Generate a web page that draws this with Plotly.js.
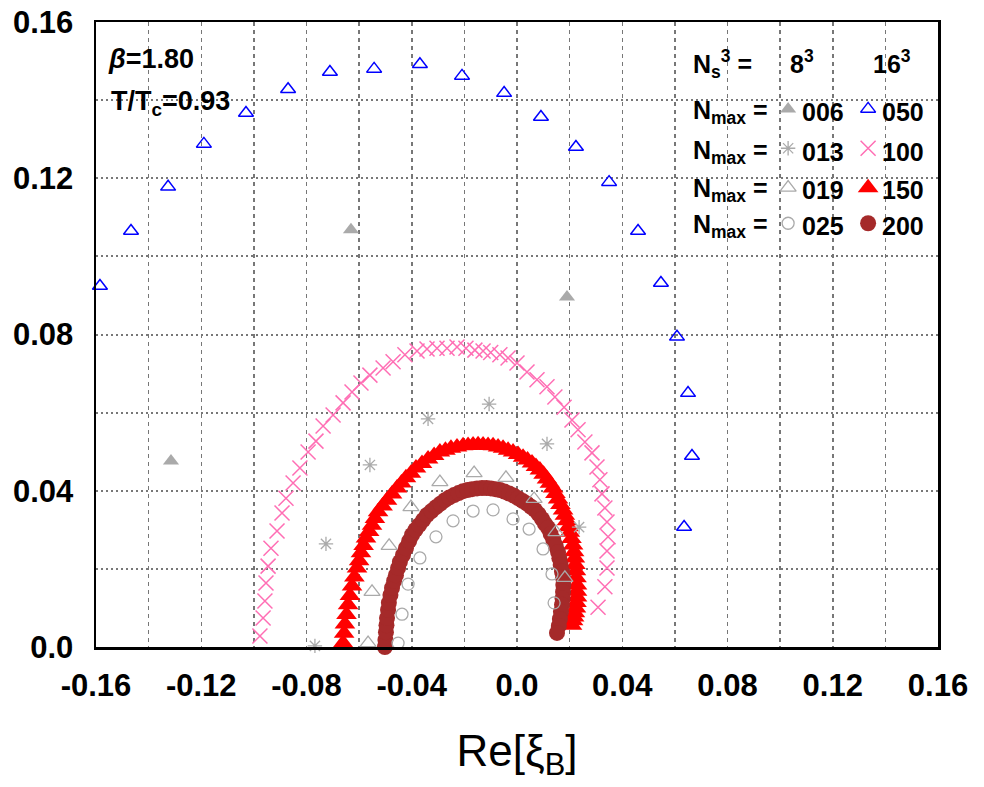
<!DOCTYPE html>
<html>
<head>
<meta charset="utf-8">
<script src="https://cdn.plot.ly/plotly-3.0.1.min.js"></script>
<style>html,body{margin:0;padding:0;background:#fff;}#chart{width:984px;height:787px;}</style>
</head>
<body>
<div id="chart"></div>
<script>
// ---------- data ----------
const xTickVals = [-0.16, -0.12, -0.08, -0.04, 0, 0.04, 0.08, 0.12, 0.16];
const xTickText = ['-0.16', '-0.12', '-0.08', '-0.04', '0.0', '0.04', '0.08', '0.12', '0.16'];
const xMinorVals = [-0.14, -0.10, -0.06, -0.02, 0.02, 0.06, 0.10, 0.14];
const yTickVals = [0, 0.04, 0.08, 0.12, 0.16];
const yTickText = ['0.0', '0.04', '0.08', '0.12', '0.16'];
const yMinorVals = [0.02, 0.06, 0.10, 0.14];

// 8^3 lattice
const n006X = [-0.1315, -0.0631, 0.0190];
const n006Y = [0.0476, 0.1068, 0.0896];
const n013X = [-0.0768, -0.0726, -0.0559, -0.0338, -0.0106, 0.0114, 0.0236];
const n013Y = [0.0003, 0.0264, 0.0466, 0.0584, 0.0622, 0.0520, 0.0307];
const n019X = [-0.0566, -0.0551, -0.0486, -0.0403, -0.0293, -0.0163, -0.0042, 0.0065, 0.0148, 0.0182];
const n019Y = [0.0010, 0.0141, 0.0259, 0.0358, 0.0422, 0.0445, 0.0433, 0.0379, 0.0294, 0.0177];
const n025X = [-0.0452, -0.0437, -0.0414, -0.0369, -0.0308, -0.0243, -0.0167, -0.0091, -0.0015, 0.0046, 0.0099, 0.0133, 0.0141];
const n025Y = [0.0010, 0.0084, 0.0161, 0.0228, 0.0282, 0.0323, 0.0348, 0.0351, 0.0328, 0.0302, 0.0251, 0.0187, 0.0113];

// 16^3 lattice
const n050X = [-0.1585, -0.1467, -0.1326, -0.1190, -0.1030, -0.0870, -0.0711, -0.0543, -0.0369, -0.0209,
               -0.0049, 0.0091, 0.0224, 0.0350, 0.0460, 0.0547, 0.0608, 0.0650, 0.0665, 0.0635];
const n050Y = [0.0924, 0.1065, 0.1178, 0.1288, 0.1367, 0.1428, 0.1472, 0.1480, 0.1492, 0.1462,
               0.1418, 0.1357, 0.1280, 0.1190, 0.1065, 0.0932, 0.0794, 0.0650, 0.0489, 0.0307];
const n100X = [-0.0977, -0.0965, -0.0958, -0.0954, -0.0946, -0.0935, -0.0912, -0.0893, -0.0878, -0.0851,
               -0.0825, -0.0794, -0.0764, -0.0737, -0.0699, -0.0661, -0.0627, -0.0593, -0.0559, -0.0509,
               -0.0471, -0.0426, -0.0380, -0.0342, -0.0304, -0.0266, -0.0228, -0.0194, -0.0160, -0.0129,
               -0.0100, -0.0065, -0.0034, 0.0000, 0.0038, 0.0076, 0.0114, 0.0144, 0.0179, 0.0209,
               0.0232, 0.0258, 0.0285, 0.0304, 0.0315, 0.0323, 0.0334, 0.0342, 0.0346, 0.0342,
               0.0342, 0.0334, 0.0308];
const n100Y = [0.0028, 0.0074, 0.0118, 0.0164, 0.0207, 0.0253, 0.0297, 0.0343, 0.0381, 0.0420,
               0.0458, 0.0499, 0.0527, 0.0566, 0.0594, 0.0625, 0.0653, 0.0676, 0.0696, 0.0714,
               0.0730, 0.0748, 0.0758, 0.0763, 0.0765, 0.0765, 0.0768, 0.0765, 0.0760, 0.0758,
               0.0754, 0.0748, 0.0740, 0.0727, 0.0704, 0.0684, 0.0666, 0.0640, 0.0614, 0.0581,
               0.0556, 0.0525, 0.0497, 0.0461, 0.0428, 0.0392, 0.0356, 0.0320, 0.0282, 0.0246,
               0.0202, 0.0154, 0.0102];
const n150X = [-0.0661, -0.0657, -0.0654, -0.0648, -0.0642, -0.0635, -0.0627, -0.0618, -0.0608, -0.0600,
               -0.0593, -0.0583, -0.0574, -0.0562, -0.0551, -0.0540, -0.0528, -0.0511, -0.0494, -0.0475,
               -0.0456, -0.0439, -0.0422, -0.0403, -0.0384, -0.0361, -0.0338, -0.0315, -0.0293, -0.0272,
               -0.0251, -0.0228, -0.0205, -0.0186, -0.0167, -0.0148, -0.0129, -0.0110, -0.0091, -0.0072,
               -0.0053, -0.0034, -0.0015, 0.0004, 0.0023, 0.0040, 0.0057, 0.0072, 0.0087, 0.0101,
               0.0114, 0.0125, 0.0137, 0.0146, 0.0156, 0.0165, 0.0175, 0.0182, 0.0190, 0.0196,
               0.0201, 0.0207, 0.0213, 0.0217, 0.0220, 0.0222, 0.0224, 0.0226, 0.0228, 0.0228,
               0.0228, 0.0226, 0.0224, 0.0220, 0.0217, 0.0213, 0.0209];
const n150Y = [0.0010, 0.0035, 0.0059, 0.0083, 0.0108, 0.0132, 0.0156, 0.0179, 0.0202, 0.0221,
               0.0241, 0.0260, 0.0279, 0.0296, 0.0312, 0.0329, 0.0346, 0.0361, 0.0376, 0.0392,
               0.0407, 0.0420, 0.0433, 0.0445, 0.0458, 0.0470, 0.0481, 0.0490, 0.0499, 0.0504,
               0.0509, 0.0512, 0.0515, 0.0516, 0.0517, 0.0518, 0.0517, 0.0516, 0.0515, 0.0512,
               0.0509, 0.0504, 0.0499, 0.0493, 0.0486, 0.0479, 0.0471, 0.0462, 0.0453, 0.0442,
               0.0430, 0.0419, 0.0407, 0.0393, 0.0379, 0.0365, 0.0351, 0.0337, 0.0323, 0.0308,
               0.0294, 0.0278, 0.0261, 0.0244, 0.0228, 0.0211, 0.0195, 0.0177, 0.0159, 0.0143,
               0.0128, 0.0114, 0.0100, 0.0088, 0.0077, 0.0067, 0.0056];
const n200X = [-0.0502, -0.0500, -0.0498, -0.0496, -0.0494, -0.0490, -0.0487, -0.0481, -0.0475, -0.0467,
               -0.0460, -0.0452, -0.0445, -0.0433, -0.0422, -0.0410, -0.0399, -0.0386, -0.0372, -0.0357,
               -0.0342, -0.0325, -0.0308, -0.0291, -0.0274, -0.0257, -0.0239, -0.0222, -0.0205, -0.0188,
               -0.0171, -0.0152, -0.0133, -0.0116, -0.0099, -0.0082, -0.0065, -0.0048, -0.0030, -0.0013,
               0.0004, 0.0021, 0.0038, 0.0053, 0.0068, 0.0082, 0.0095, 0.0106, 0.0118, 0.0128,
               0.0138, 0.0147, 0.0156, 0.0161, 0.0166, 0.0171, 0.0175, 0.0176, 0.0175, 0.0173,
               0.0171, 0.0167, 0.0163, 0.0159, 0.0152];
const n200Y = [0.0000, 0.0018, 0.0038, 0.0056, 0.0074, 0.0095, 0.0113, 0.0133, 0.0151, 0.0169,
               0.0184, 0.0202, 0.0218, 0.0236, 0.0253, 0.0271, 0.0287, 0.0300, 0.0312, 0.0325,
               0.0338, 0.0348, 0.0358, 0.0367, 0.0376, 0.0383, 0.0389, 0.0394, 0.0399, 0.0402,
               0.0404, 0.0406, 0.0407, 0.0407, 0.0406, 0.0404, 0.0402, 0.0398, 0.0393, 0.0388,
               0.0381, 0.0374, 0.0367, 0.0359, 0.0351, 0.0340, 0.0328, 0.0316, 0.0305, 0.0289,
               0.0274, 0.0259, 0.0243, 0.0227, 0.0210, 0.0193, 0.0177, 0.0159, 0.0141, 0.0124,
               0.0108, 0.0090, 0.0072, 0.0054, 0.0036];

const nmaxSmall = ['006', '013', '019', '025'];
const nmaxLarge = ['050', '100', '150', '200'];
const latticeLabels = ['8<sup>3</sup>', '16<sup>3</sup>'];

// ---------- styles ----------
const FONT = "'Liberation Sans', Arial, sans-serif";
const GRAY = '#aaaaaa';
const styles = {
  n006: {symbol: 'triangle-up', size: 14, color: GRAY},
  n013: {symbol: 'asterisk-open', size: 12, color: GRAY, line: {color: GRAY, width: 1.3}},
  n019: {symbol: 'triangle-up-open', size: 14, color: GRAY, line: {color: GRAY, width: 1.3}},
  n025: {symbol: 'circle-open', size: 12, color: GRAY, line: {color: GRAY, width: 1.3}},
  n050: {symbol: 'triangle-up-open', size: 13, color: '#0000ff', line: {color: '#0000ff', width: 1.5}},
  n100: {symbol: 'x-thin-open', size: 15, color: '#ff6eb4', line: {color: '#ff6eb4', width: 1.5}},
  n150: {symbol: 'triangle-up', size: 18, color: '#ff0000'},
  n200: {symbol: 'circle', size: 16, color: '#a52a2a'}
};

function series(x, y, st) {
  return {type: 'scatter', mode: 'markers', x: x, y: y, marker: st, cliponaxis: false, showlegend: false, hoverinfo: 'skip'};
}

const traces = [
  series(n050X, n050Y, styles.n050),
  series(n100X, n100Y, styles.n100),
  series(n150X, n150Y, styles.n150),
  series(n200X, n200Y, styles.n200),
  series(n006X, n006Y, styles.n006),
  series(n013X, n013Y, styles.n013),
  series(n019X, n019Y, styles.n019),
  series(n025X, n025Y, styles.n025)
];

// legend block (overlay axis spanning the plot area, 0..1)
const legCol = [0.822, 0.917];
const legRowMarker = [0.861, 0.798, 0.735, 0.678];
const legRowText = [0.856, 0.792, 0.732, 0.673];
const smallKeys = ['n006', 'n013', 'n019', 'n025'];
const largeKeys = ['n050', 'n100', 'n150', 'n200'];
for (let i = 0; i < 4; i++) {
  traces.push(Object.assign(series([legCol[0]], [legRowMarker[i]], styles[smallKeys[i]]), {xaxis: 'x2', yaxis: 'y2'}));
  traces.push(Object.assign(series([legCol[1]], [legRowMarker[i]], styles[largeKeys[i]]), {xaxis: 'x2', yaxis: 'y2'}));
}

const txt = (text, x, y, size, xanchor) => ({
  text: text, x: x, y: y, xref: 'paper', yref: 'paper', showarrow: false,
  xanchor: xanchor || 'center', yanchor: 'middle',
  font: {family: FONT, size: size, color: '#000', weight: 'bold'}
});

const annotations = [
  txt('<i>β</i>=1.80', 0.012, 0.941, 27, 'left'),
  txt('T/T<sub>c</sub>=0.93', 0.015, 0.870, 27, 'left'),
  txt('N<sub>s</sub><sup>3</sup> =', 0.707, 0.933, 25, 'left'),
  txt(latticeLabels[0], 0.838, 0.936, 25, 'center'),
  txt(latticeLabels[1], 0.945, 0.936, 25, 'center')
];
for (let i = 0; i < 4; i++) {
  annotations.push(txt('N<sub>max</sub> =', 0.707, legRowText[i], 25, 'left'));
  annotations.push(txt(nmaxSmall[i], 0.864, legRowText[i], 25, 'center'));
  annotations.push(txt(nmaxLarge[i], 0.958, legRowText[i], 25, 'center'));
}

const GRID = '#777777';
const tickFont = {family: FONT, size: 31, color: '#000', weight: 'bold'};
const layout = {
  width: 984, height: 787,
  margin: {l: 96, r: 46, t: 22, b: 140},
  paper_bgcolor: '#fff', plot_bgcolor: '#fff',
  showlegend: false,
  xaxis: {
    range: [-0.16, 0.16], tickmode: 'array', tickvals: xTickVals, ticktext: xTickText,
    tickfont: tickFont, ticks: '', ticklabelstandoff: 9,
    showgrid: true, gridcolor: GRID, gridwidth: 1.5, griddash: '4px,4px',
    minor: {tickmode: 'array', tickvals: xMinorVals, showgrid: true, gridcolor: GRID, gridwidth: 1.5, griddash: '4px,4px', ticks: ''},
    showline: true, linecolor: '#000', linewidth: 2.5, mirror: true, zeroline: false,
    title: {text: 'Re[ξ<sub>B</sub>]', font: {family: FONT, size: 44, color: '#000'}, standoff: 34}
  },
  yaxis: {
    range: [0, 0.16], tickmode: 'array', tickvals: yTickVals, ticktext: yTickText,
    tickfont: tickFont, ticks: '', ticklabelstandoff: 14,
    showgrid: true, gridcolor: GRID, gridwidth: 2, griddash: '2px,3px',
    minor: {tickmode: 'array', tickvals: yMinorVals, showgrid: true, gridcolor: GRID, gridwidth: 2, griddash: '2px,3px', ticks: ''},
    showline: true, linecolor: '#000', linewidth: 2.5, mirror: true, zeroline: false
  },
  xaxis2: {overlaying: 'x', anchor: 'y2', range: [0, 1], visible: false, fixedrange: true},
  yaxis2: {overlaying: 'y', anchor: 'x2', range: [0, 1], visible: false, fixedrange: true},
  annotations: annotations
};

Plotly.newPlot('chart', traces, layout, {staticPlot: true, displayModeBar: false});
</script>
</body>
</html>
